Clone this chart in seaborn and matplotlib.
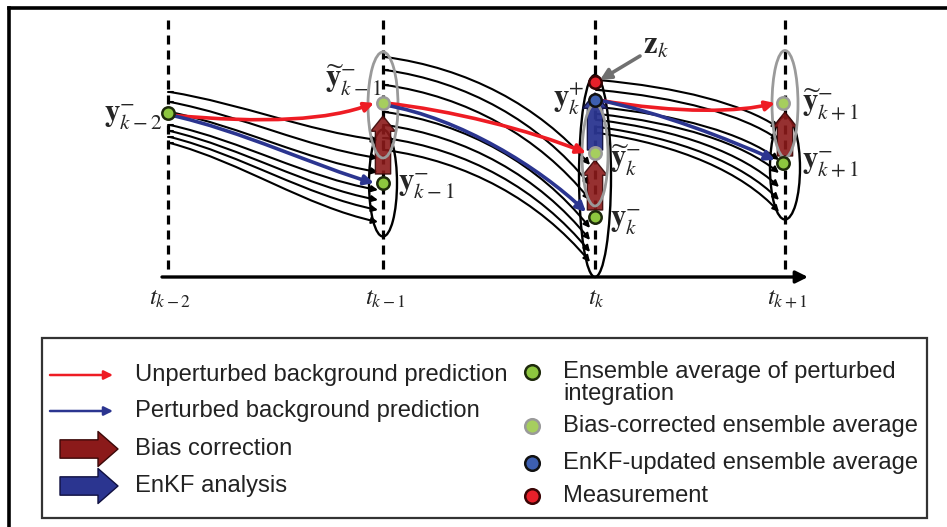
import numpy as np
import pandas as pd
import matplotlib
matplotlib.use("Agg")
import matplotlib.pyplot as plt
import seaborn as sns
from matplotlib.patches import Ellipse, FancyArrowPatch, Rectangle
from matplotlib.path import Path

sns.set_theme(style="white")
plt.rcParams['font.family'] = ['Liberation Sans', 'DejaVu Sans']
plt.rcParams['mathtext.fontset'] = 'stix'
plt.rcParams['lines.scale_dashes'] = False

# ---------------- data ----------------
time_labels = [r'$t_{k-2}$', r'$t_{k-1}$', r'$t_{k}$', r'$t_{k+1}$']
time_x = [168, 383, 595, 785]

seg_x0 = [170, 385, 598]
seg_x1 = [378, 590, 779]
ens_start = [[92, 102, 112, 125, 131, 137, 143],
             [57, 70, 85, 112, 125, 138, 150],
             [80, 90, 107, 114, 120, 127, 133]]
ens_end = [[140, 158, 172, 190, 200, 210, 222],
           [165, 185, 200, 228, 240, 252, 262],
           [128, 140, 160, 173, 187, 200, 212]]
red_start = [115, 103, 100]
red_end = [103, 153, 103]
blue_start = [115, 105, 100]
blue_end = [183, 212, 160]

pt_x = [168, 383, 383, 595, 595, 595, 595, 783, 783]
pt_y = [113, 183, 103, 217, 153, 100, 82, 163, 103]
pt_kind = ['ens', 'ens', 'bias', 'ens', 'bias', 'enkf', 'meas', 'ens', 'bias']

bias_from = [(383, 174), (595, 210), (785, 156)]
bias_to = [(383, 116), (595, 160), (785, 112)]
enkf_from = [(595, 150)]
enkf_to = [(595, 93)]

legend_left = ['Unperturbed background prediction', 'Perturbed background prediction',
               'Bias correction', 'EnKF analysis']
legend_right = ['Ensemble average of perturbed\nintegration', 'Bias-corrected ensemble average',
                'EnKF-updated ensemble average', 'Measurement']

# ---------------- styles ----------------
RED = '#ee1c24'
BLUE = '#2b3590'
DRED = '#8b1a1a'
FILL = {'ens': '#8dc63f', 'bias': '#a6ce5e', 'enkf': '#3d5fb0', 'meas': '#e8202a'}
EDGE = {'ens': '#1e2a0c', 'bias': '#9a9a9a', 'enkf': '#111111', 'meas': '#3a0505'}

fig = plt.figure(figsize=(9.47, 5.27), dpi=100)
ax = fig.add_axes([0, 0, 1, 1])
ax.set_xlim(0, 947)
ax.set_ylim(527, 0)
ax.axis('off')

# outer frame (left and top edges visible)
ax.plot([9, 9], [8, 527], color='black', lw=2.6, solid_capstyle='projecting')
ax.plot([9, 947], [8, 8], color='black', lw=2.6, solid_capstyle='projecting')

# dashed time lines
for x in time_x:
    ax.plot([x, x], [20, 274], color='black', lw=2.3, dashes=(6.5, 4.3), zorder=1)

# time axis
ax.annotate('', xy=(808, 277), xytext=(162, 277),
            arrowprops=dict(arrowstyle='-|>', lw=2.4, color='black', mutation_scale=18,
                            shrinkA=0, shrinkB=0), zorder=2)
for x, lab in zip(time_x, time_labels):
    ax.text(x + 2, 298, lab, fontsize=18, ha='center', va='center', color='#222222')


def bez(p0, c1, c2, p1):
    return Path([p0, c1, c2, p1], [Path.MOVETO, Path.CURVE4, Path.CURVE4, Path.CURVE4])


def frac_path(x0, y0, x1, y1, shape):
    dx, dy = x1 - x0, y1 - y0
    (a, b), (c, d) = shape
    return bez((x0, y0), (x0 + a * dx, y0 + b * dy), (x0 + c * dx, y0 + d * dy), (x1, y1))


# ellipses
black_ell = [((383, 183), 28, 107), ((595, 176), 32, 202), ((785, 168), 30, 103)]
gray_ell = [((383, 105), 30, 106), ((595, 155), 26, 102), ((785, 104), 26, 107)]
for c, w, h in black_ell:
    ax.add_patch(Ellipse(c, w, h, fill=False, ec='black', lw=1.7, zorder=2))

# ensemble members
shapes = [((0.35, 0.25), (0.65, 0.8)), ((0.4, 0.1), (0.75, 0.45)), ((0.45, 0.15), (0.8, 0.5))]
for s in range(3):
    for y0, y1 in zip(ens_start[s], ens_end[s]):
        p = frac_path(seg_x0[s], y0, seg_x1[s], y1, shapes[s])
        ax.add_patch(FancyArrowPatch(path=p, arrowstyle='-|>', mutation_scale=9,
                                     lw=1.5, color='black', zorder=3))
        ax.plot([seg_x0[s] - 2, seg_x0[s] + 3], [y0, y0], color='black', lw=1.5, zorder=3)

# bias correction & EnKF thick arrows
for a, b in zip(bias_from, bias_to):
    ax.add_patch(FancyArrowPatch(a, b, arrowstyle='simple,head_length=1.0,head_width=1.6,tail_width=1.0',
                                 mutation_scale=11, fc=DRED, ec='#3a0808', lw=1.0, alpha=0.9,
                                 shrinkA=0, shrinkB=0, zorder=4))
for a, b in zip(enkf_from, enkf_to):
    ax.add_patch(FancyArrowPatch(a, b, arrowstyle='simple,head_length=1.0,head_width=1.6,tail_width=1.0',
                                 mutation_scale=11, fc=BLUE, ec='#101040', lw=1.0, alpha=0.95,
                                 shrinkA=0, shrinkB=0, zorder=4))

for c, w, h in gray_ell:
    ax.add_patch(Ellipse(c, w, h, fill=False, ec='#9a9a9a', lw=2.0, zorder=4.5))

# red and blue trajectories
red_ctrl = [((265, 124), (330, 120)), ((450, 110), (530, 130)), ((680, 114), (740, 112))]
blue_ctrl = [((240, 130), (320, 168)), ((460, 118), (540, 168)), ((660, 112), (730, 140))]
for s in range(3):
    pr = bez((seg_x0[s], red_start[s]), red_ctrl[s][0], red_ctrl[s][1], (seg_x1[s] - 4, red_end[s]))
    ax.add_patch(FancyArrowPatch(path=pr, arrowstyle='-|>', mutation_scale=14, lw=2.6,
                                 color=RED, zorder=5))
    pb = bez((seg_x0[s], blue_start[s]), blue_ctrl[s][0], blue_ctrl[s][1], (seg_x1[s] - 4, blue_end[s]))
    ax.add_patch(FancyArrowPatch(path=pb, arrowstyle='-|>', mutation_scale=14, lw=2.6,
                                 color=BLUE, zorder=5))

# points
pts = pd.DataFrame({'x': pt_x, 'y': pt_y, 'kind': pt_kind})
for kind, g in pts.groupby('kind'):
    sns.scatterplot(data=g, x='x', y='y', ax=ax, s=80, color=FILL[kind], edgecolor=EDGE[kind],
                    linewidth=1.8, zorder=6, legend=False)
ax.set_xlim(0, 947)
ax.set_ylim(527, 0)
ax.axis('off')

# labels
LFS = 22
ax.text(162, 117, r'$\mathbf{y}_{k-2}^{-}$', fontsize=LFS, ha='right', va='center', zorder=7)
ax.text(381, 80, r'$\widetilde{\mathbf{y}}_{k-1}^{-}$', fontsize=LFS, ha='right', va='center', zorder=3.5)
ax.text(398, 186, r'$\mathbf{y}_{k-1}^{-}$', fontsize=LFS, ha='left', va='center', zorder=7)
ax.text(584, 99, r'$\mathbf{y}_{k}^{+}$', fontsize=LFS, ha='right', va='center', zorder=7)
ax.text(610, 160, r'$\widetilde{\mathbf{y}}_{k}^{-}$', fontsize=LFS, ha='left', va='center', zorder=7)
ax.text(610, 222, r'$\mathbf{y}_{k}^{-}$', fontsize=LFS, ha='left', va='center', zorder=7)
ax.text(802, 105, r'$\widetilde{\mathbf{y}}_{k+1}^{-}$', fontsize=LFS, ha='left', va='center', zorder=7)
ax.text(802, 165, r'$\mathbf{y}_{k+1}^{-}$', fontsize=LFS, ha='left', va='center', zorder=7)
ax.text(643, 46, r'$\mathbf{z}_{k}$', fontsize=LFS, ha='left', va='center', zorder=7)
ax.annotate('', xy=(600, 80), xytext=(640, 56),
            arrowprops=dict(arrowstyle='-|>', lw=2.6, color='#707070', mutation_scale=16,
                            shrinkA=0, shrinkB=0), zorder=7)

# legend box
ax.add_patch(Rectangle((42, 338), 885, 180, fill=False, ec='#333333', lw=1.6, zorder=1))
LEG_FS = 17.1
ly = [375, 411, 449, 486]
ax.annotate('', xy=(113, ly[0]), xytext=(50, ly[0]),
            arrowprops=dict(arrowstyle='-|>', lw=1.8, color=RED, mutation_scale=13, shrinkA=0, shrinkB=0))
ax.annotate('', xy=(113, ly[1]), xytext=(50, ly[1]),
            arrowprops=dict(arrowstyle='-|>', lw=1.8, color=BLUE, mutation_scale=13, shrinkA=0, shrinkB=0))
for yy, col, ec in [(ly[2], DRED, '#3a0808'), (ly[3], BLUE, '#101040')]:
    ax.add_patch(FancyArrowPatch((60, yy), (118, yy),
                                 arrowstyle='simple,head_length=1.2,head_width=2.1,tail_width=1.1',
                                 mutation_scale=12, fc=col, ec=ec, lw=1.0, shrinkA=0, shrinkB=0))
for yy, t in zip(ly, legend_left):
    ax.text(135, yy, t, fontsize=LEG_FS, ha='left', va='center', color='#222222')

ry = [372, 426, 463, 496]
rkinds = ['ens', 'bias', 'enkf', 'meas']
leg_pts = pd.DataFrame({'x': [532] * 4, 'y': ry, 'kind': rkinds})
for kind, g in leg_pts.groupby('kind'):
    sns.scatterplot(data=g, x='x', y='y', ax=ax, s=110, color=FILL[kind], edgecolor=EDGE[kind],
                    linewidth=1.8, zorder=6, legend=False)
ax.text(563, 372, 'Ensemble average of perturbed', fontsize=LEG_FS, ha='left', va='center', color='#222222')
ax.text(563, 394, 'integration', fontsize=LEG_FS, ha='left', va='center', color='#222222')
for yy, t in zip(ry[1:], legend_right[1:]):
    ax.text(563, yy, t, fontsize=LEG_FS, ha='left', va='center', color='#222222')

ax.set_xlim(0, 947)
ax.set_ylim(527, 0)
ax.axis('off')
fig.savefig('out.png', dpi=100)
